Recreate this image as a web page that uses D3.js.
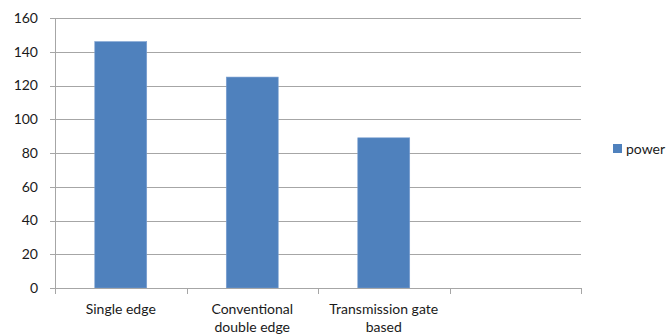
<!DOCTYPE html>
<html>
<head>
<meta charset="utf-8">
<script src="https://cdn.jsdelivr.net/npm/d3@7"></script>
<style>
  body { margin: 0; background: #fff; }
  text { font-family: Lato, "Open Sans", sans-serif; fill: #1a1a1a; }
</style>
</head>
<body>
<svg id="chart" width="670" height="334"></svg>
<script>
// categories (4th slot is empty in the original)
let categories = [["Single edge"], ["Conventional", "double edge"], ["Transmission gate", "based"], [""]];
let categoryKeys = ["a", "b", "c", "d"];
let powerValues = [146, 125, 89, null];
let yTicks = [0, 20, 40, 60, 80, 100, 120, 140, 160];
let seriesName = "power";

let svg = d3.select("#chart");

let plotLeft = 55, plotRight = 581, plotTop = 18, plotBottom = 288;

let x = d3.scaleBand()
    .domain(categoryKeys)
    .range([plotLeft, plotRight])
    .padding(0);

let y = d3.scaleLinear()
    .domain([0, 160])
    .range([plotBottom, plotTop]);

// gridlines
svg.append("g")
    .selectAll("line")
    .data(yTicks.filter(d => d > 0))
    .enter()
    .append("line")
    .attr("x1", plotLeft - 5)
    .attr("x2", plotRight)
    .attr("y1", d => Math.round(y(d)) + 0.5)
    .attr("y2", d => Math.round(y(d)) + 0.5)
    .attr("stroke", "#a6a6a6")
    .attr("stroke-width", 1);

// y axis line
svg.append("line")
    .attr("x1", plotLeft + 0.5).attr("x2", plotLeft + 0.5)
    .attr("y1", plotTop).attr("y2", plotBottom)
    .attr("stroke", "#a6a6a6");

// y labels
svg.append("g")
    .selectAll("text")
    .data(yTicks)
    .enter()
    .append("text")
    .attr("x", 38)
    .attr("y", d => y(d))
    .attr("dy", "0.35em")
    .attr("text-anchor", "end")
    .attr("font-size", 14)
    .text(d => d);

// bars
let barW = x.bandwidth() * 0.395;
svg.append("g")
    .selectAll("rect")
    .data(powerValues.map((v, i) => ({ key: categoryKeys[i], v: v })).filter(d => d.v != null))
    .enter()
    .append("rect")
    .attr("x", d => x(d.key) + x.bandwidth() / 2 - barW / 2)
    .attr("y", d => y(d.v))
    .attr("width", barW)
    .attr("height", d => y(0) - y(d.v))
    .attr("fill", "#4f81bd")
    .attr("stroke", "#7a9fd0")
    .attr("stroke-width", 0.6);

// x axis line + ticks
svg.append("line")
    .attr("x1", plotLeft - 5).attr("x2", plotRight)
    .attr("y1", Math.round(y(0)) + 0.5).attr("y2", Math.round(y(0)) + 0.5)
    .attr("stroke", "#a6a6a6");

let bounds = categoryKeys.map(k => x(k)).concat([plotRight]);
svg.append("g")
    .selectAll("line")
    .data(bounds)
    .enter()
    .append("line")
    .attr("x1", d => Math.round(d) + 0.5)
    .attr("x2", d => Math.round(d) + 0.5)
    .attr("y1", Math.round(y(0)))
    .attr("y2", Math.round(y(0)) + 6)
    .attr("stroke", "#a6a6a6");

// x labels
categories.forEach((lines, i) => {
    let t = svg.append("text")
        .attr("x", x(categoryKeys[i]) + x.bandwidth() / 2)
        .attr("y", 314)
        .attr("text-anchor", "middle")
        .attr("font-size", 14);
    lines.forEach((line, j) => {
        t.append("tspan")
            .attr("x", x(categoryKeys[i]) + x.bandwidth() / 2)
            .attr("dy", j === 0 ? 0 : 18)
            .text(line);
    });
});

// legend
svg.append("rect")
    .attr("x", 613).attr("y", 144)
    .attr("width", 9).attr("height", 9)
    .attr("fill", "#4f81bd");
svg.append("text")
    .attr("x", 626).attr("y", 154)
    .attr("font-size", 14)
    .text(seriesName);
</script>
</body>
</html>
